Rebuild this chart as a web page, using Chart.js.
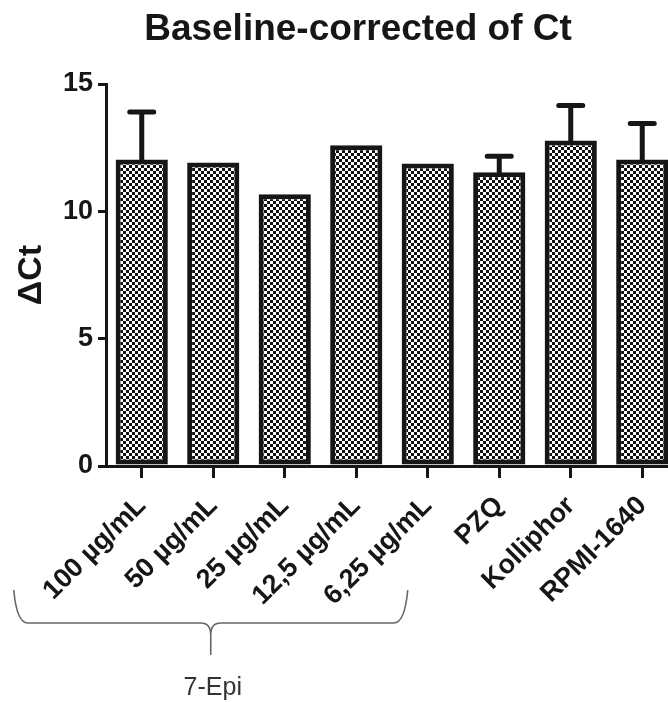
<!DOCTYPE html>
<html lang="en">
<head>
  <meta charset="UTF-8">
  <title>Baseline-corrected of Ct</title>
  <script src="https://cdn.jsdelivr.net/npm/chart.js"></script>
  <style>
    body {
      margin: 0;
      background: #ffffff;
      overflow: hidden;
    }
    canvas {
      display: block;
    }
  </style>
</head>
<body>

  <canvas id="ctChart" width="680" height="702"></canvas>

  <script>
    const categories = ['100 µg/mL', '50 µg/mL', '25 µg/mL', '12,5 µg/mL', '6,25 µg/mL', 'PZQ', 'Kolliphor', 'RPMI-1640'];
    const meanCt = [12.04, 11.92, 10.67, 12.59, 11.88, 11.53, 12.78, 12.04];
    const errorCt = [1.86, 0, 0, 0, 0, 0.63, 1.38, 1.41];
    const yTicks = [0, 5, 10, 15];
    const groupLabel = '7-Epi';
    const chartTitle = 'Baseline-corrected of Ct';

    const ink = '#161616';
    const fontName = "'Liberation Sans', Arial, sans-serif";

    // checkerboard fill like the original prism plot
    function makePattern() {
      const tile = document.createElement('canvas');
      tile.width = 6;
      tile.height = 6;
      const t = tile.getContext('2d');
      t.fillStyle = '#ffffff';
      t.fillRect(0, 0, 6, 6);
      t.fillStyle = '#111111';
      t.fillRect(0, 0, 3, 3);
      t.fillRect(3, 3, 3, 3);
      return t.createPattern(tile, 'repeat');
    }

    const errorBars = {
      id: 'errorBars',
      afterDatasetsDraw(chart) {
        const ctx = chart.ctx;
        const y = chart.scales.y;
        const meta = chart.getDatasetMeta(0);
        ctx.save();
        ctx.strokeStyle = ink;
        ctx.lineWidth = 5;
        ctx.lineCap = 'round';
        meta.data.forEach((bar, i) => {
          if (!errorCt[i]) return;
          const top = y.getPixelForValue(meanCt[i] + errorCt[i]);
          ctx.beginPath();
          ctx.moveTo(bar.x, bar.y);
          ctx.lineTo(bar.x, top);
          ctx.moveTo(bar.x - 12, top);
          ctx.lineTo(bar.x + 12, top);
          ctx.stroke();
        });
        ctx.restore();
      }
    };

    const extras = {
      id: 'extras',
      afterDraw(chart) {
        const ctx = chart.ctx;
        const x = chart.scales.x;
        const b = chart.chartArea.bottom;

        ctx.save();
        // title
        ctx.fillStyle = ink;
        ctx.font = 'bold 37px ' + fontName;
        ctx.textAlign = 'center';
        ctx.textBaseline = 'alphabetic';
        ctx.fillText(chartTitle, 358, 40);

        // brace under the 7-Epi group
        const left = x.getPixelForValue(0) - 128;
        const right = x.getPixelForValue(4) - 20;
        const mid = (left + right) / 2;
        const top = b + 124;
        const hy = b + 157;
        const tip = b + 189;
        ctx.strokeStyle = '#666666';
        ctx.lineWidth = 1.6;
        ctx.beginPath();
        ctx.moveTo(left, top);
        ctx.quadraticCurveTo(left + 3, hy, left + 14, hy);
        ctx.lineTo(mid - 10, hy);
        ctx.quadraticCurveTo(mid, hy, mid, hy + 12);
        ctx.lineTo(mid, tip);
        ctx.moveTo(mid, hy + 12);
        ctx.quadraticCurveTo(mid, hy, mid + 10, hy);
        ctx.lineTo(right - 14, hy);
        ctx.quadraticCurveTo(right - 3, hy, right, top);
        ctx.stroke();

        ctx.fillStyle = '#333333';
        ctx.font = '25px ' + fontName;
        ctx.textAlign = 'center';
        ctx.fillText(groupLabel, mid + 2, b + 229);
        ctx.restore();
      }
    };

    const ctx = document.getElementById('ctChart').getContext('2d');

    new Chart(ctx, {
      type: 'bar',
      data: {
        labels: categories,
        datasets: [{
          data: meanCt,
          backgroundColor: makePattern(),
          borderColor: ink,
          borderWidth: 5,
          borderSkipped: false,
          barPercentage: 0.73,
          categoryPercentage: 1
        }]
      },
      options: {
        responsive: false,
        animation: false,
        devicePixelRatio: 1,
        layout: {
          padding: { top: 84, right: 2, bottom: 0, left: 0 }
        },
        plugins: {
          legend: { display: false },
          tooltip: { enabled: false }
        },
        scales: {
          x: {
            grid: {
              offset: false,
              drawOnChartArea: false,
              tickLength: 12,
              lineWidth: 3,
              color: ink
            },
            border: { color: ink, width: 3 },
            ticks: {
              autoSkip: false,
              minRotation: 45,
              maxRotation: 45,
              padding: 12,
              color: ink,
              font: { family: fontName, size: 27, weight: 'bold' }
            },
            afterFit(scale) {
              scale.height = 236;
            }
          },
          y: {
            min: 0,
            max: 15,
            afterBuildTicks(scale) {
              scale.ticks = yTicks.map(v => ({ value: v }));
            },
            grid: {
              drawOnChartArea: false,
              tickLength: 8,
              lineWidth: 3,
              color: ink
            },
            border: { color: ink, width: 3 },
            ticks: {
              padding: 5,
              color: ink,
              font: { family: fontName, size: 27, weight: 'bold' }
            },
            title: {
              display: true,
              text: 'ΔCt',
              color: ink,
              padding: { top: 11, bottom: 0 },
              font: { family: fontName, size: 34, weight: 'bold' }
            },
            afterFit(scale) {
              scale.width = 106;
            }
          }
        }
      },
      plugins: [errorBars, extras]
    });
  </script>

</body>
</html>
